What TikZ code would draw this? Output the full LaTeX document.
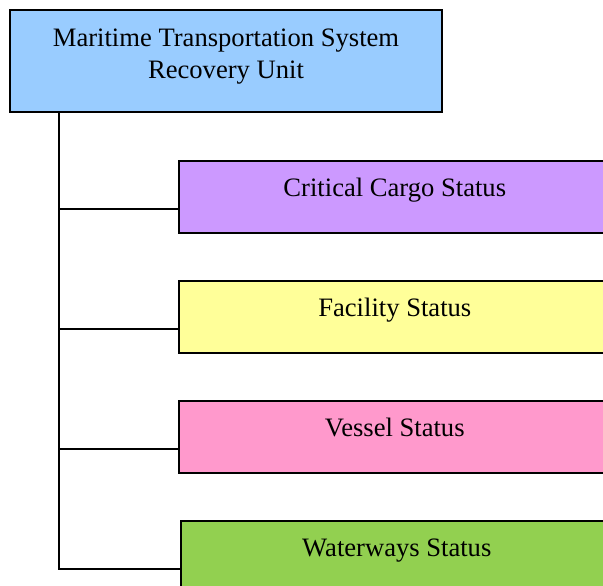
\documentclass[tikz,border=0pt]{standalone}
\usepackage{fontspec}
\setmainfont{Liberation Serif}
\usepackage{xcolor}
\usepackage{tikz}
\usetikzlibrary{positioning}
\definecolor{unitblue}{HTML}{99CCFF}
\definecolor{cargopurple}{HTML}{CC99FF}
\definecolor{facilityyellow}{HTML}{FFFF99}
\definecolor{vesselpink}{HTML}{FF99CC}
\definecolor{waterwaygreen}{HTML}{92D050}

\begin{document}
\begin{tikzpicture}[x=1pt,y=-1pt,
  box/.style={draw=black,line width=1.6pt,rectangle,minimum width=432pt,
    font=\fontsize{26.6}{32}\selectfont,inner ysep=17.8pt,
    text height=18pt,text depth=18.4pt,minimum height=72pt},
  link/.style={draw=black,line width=1.6pt}]
  \clip (0,0) rectangle (603,586);
  \node[box,fill=unitblue,minimum height=102pt,align=center,text height=50pt,text depth=16pt,inner ysep=18pt] (mts) at (226,61) {Maritime Transportation System\\Recovery Unit};
  \node[box,fill=cargopurple,anchor=north west] (cargo) at (178,160) {Critical Cargo Status};
  \node[box,fill=facilityyellow,anchor=north west] (facility) at (178,280) {Facility Status};
  \node[box,fill=vesselpink,anchor=north west] (vessel) at (178,400) {Vessel Status};
  \node[box,fill=waterwaygreen,anchor=north west] (waterways) at (180,520) {Waterways Status};
  \coordinate (trunk) at (59,112);
  \foreach \n in {cargo,facility,vessel,waterways}
    \draw[link] (trunk) |- ([yshift=-12pt]\n.west);
\end{tikzpicture}
\end{document}
